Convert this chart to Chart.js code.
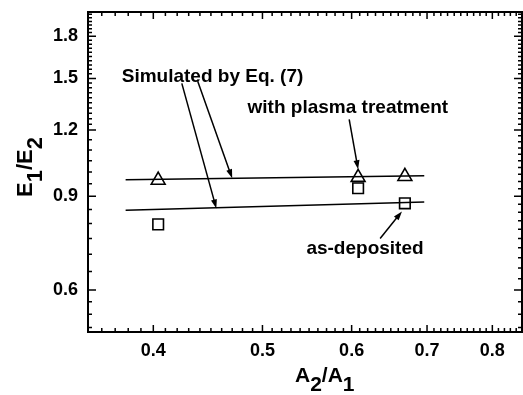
<!DOCTYPE html>
<html>
<head>
<meta charset="utf-8">
<script src="https://cdn.jsdelivr.net/npm/chart.js@4.4.0/dist/chart.umd.min.js"></script>
<style>
  html, body { margin: 0; padding: 0; background: #fff; }
</style>
</head>
<body>
<canvas id="chart" width="523" height="395"></canvas>
<script>
// measured points
const ratioX = [0.404, 0.608, 0.669];
const plasmaY = [0.965, 0.977, 0.981];
const depositedY = [0.797, 0.932, 0.873];

// simulated lines (Eq. 7)
const simX = [0.378, 0.696];
const simPlasmaY = [0.967, 0.984];
const simDepositedY = [0.847, 0.878];

// axes
const xTickLabels = [0.4, 0.5, 0.6, 0.7, 0.8];
const yTickLabels = [0.6, 0.9, 1.2, 1.5, 1.8];
const xRange = [0.35, 0.85];
const yRange = [0.5, 2.0];

// annotations (data units)
const noteText = ['Simulated by Eq. (7)', 'with plasma treatment', 'as-deposited'];
const noteX = [0.375, 0.485, 0.547];
const noteY = [1.474, 1.291, 0.700];
const arrowFromX = [0.424, 0.438, 0.597, 0.636];
const arrowFromY = [1.468, 1.481, 1.256, 0.750];
const arrowToX = [0.455, 0.470, 0.608, 0.665];
const arrowToY = [0.854, 0.973, 1.012, 0.843];

const FONT = '"Liberation Sans", Arial, sans-serif';

function steps(from, to, step) {
  const out = [];
  for (let v = from; v <= to + 1e-9; v += step) out.push(Math.round(v * 1000) / 1000);
  return out;
}
const xMinor = steps(0.35, 0.85, 0.01);
const yMinorLeft = steps(0.51, 0.6, 0.03).concat(steps(0.6, 1.2, 0.05), steps(1.2, 2.0, 0.03));
const yMinorRight = steps(0.51, 2.0, 0.03);

const pts = (xs, ys) => xs.map((x, i) => ({ x: x, y: ys[i] }));

function drawSubText(ctx, parts, x, y, shift) {
  let cx = x;
  parts.forEach(([t, sub]) => {
    ctx.fillText(t, cx, y + (sub ? shift : 0));
    cx += ctx.measureText(t).width;
  });
}

function noPadding(s) {
  s.paddingTop = 0; s.paddingBottom = 0; s.paddingLeft = 0; s.paddingRight = 0;
}

const framePlugin = {
  id: 'frame',
  afterDatasetsDraw(chart) {
    const ctx = chart.ctx;
    const ca = chart.chartArea;
    const xs = chart.scales.x;
    const ys = chart.scales.y;
    ctx.save();
    ctx.strokeStyle = '#000';
    ctx.fillStyle = '#000';

    // ticks, inward on all four sides
    ctx.lineWidth = 1.5;
    ctx.beginPath();
    xMinor.forEach(v => {
      const p = xs.getPixelForValue(v);
      if (p < ca.left || p > ca.right) return;
      const len = xTickLabels.some(m => Math.abs(m - v) < 1e-6) ? 7 : 4;
      ctx.moveTo(p, ca.bottom); ctx.lineTo(p, ca.bottom - len);
      ctx.moveTo(p, ca.top); ctx.lineTo(p, ca.top + len);
    });
    yMinorLeft.forEach(v => {
      const p = ys.getPixelForValue(v);
      if (p < ca.top || p > ca.bottom) return;
      ctx.moveTo(ca.left, p); ctx.lineTo(ca.left + 4, p);
    });
    yMinorRight.forEach(v => {
      const p = ys.getPixelForValue(v);
      if (p < ca.top || p > ca.bottom) return;
      ctx.moveTo(ca.right, p); ctx.lineTo(ca.right - 4, p);
    });
    yTickLabels.forEach(v => {
      const p = ys.getPixelForValue(v);
      ctx.moveTo(ca.left, p); ctx.lineTo(ca.left + 8, p);
      ctx.moveTo(ca.right, p); ctx.lineTo(ca.right - 8, p);
    });
    ctx.stroke();

    ctx.lineWidth = 2;
    ctx.strokeRect(ca.left, ca.top, ca.right - ca.left, ca.bottom - ca.top);

    // arrows
    ctx.lineWidth = 1.5;
    arrowFromX.forEach((fx, i) => {
      const x0 = xs.getPixelForValue(fx), y0 = ys.getPixelForValue(arrowFromY[i]);
      const x1 = xs.getPixelForValue(arrowToX[i]), y1 = ys.getPixelForValue(arrowToY[i]);
      const a = Math.atan2(y1 - y0, x1 - x0);
      const hl = 9, hw = 3;
      ctx.beginPath();
      ctx.moveTo(x0, y0);
      ctx.lineTo(x1 - hl * 0.7 * Math.cos(a), y1 - hl * 0.7 * Math.sin(a));
      ctx.stroke();
      ctx.beginPath();
      ctx.moveTo(x1, y1);
      ctx.lineTo(x1 - hl * Math.cos(a) + hw * Math.sin(a), y1 - hl * Math.sin(a) - hw * Math.cos(a));
      ctx.lineTo(x1 - hl * Math.cos(a) - hw * Math.sin(a), y1 - hl * Math.sin(a) + hw * Math.cos(a));
      ctx.closePath();
      ctx.fill();
    });

    // notes
    ctx.font = 'bold 19px ' + FONT;
    ctx.textAlign = 'left';
    ctx.textBaseline = 'alphabetic';
    noteText.forEach((t, i) => {
      ctx.fillText(t, xs.getPixelForValue(noteX[i]), ys.getPixelForValue(noteY[i]));
    });

    // axis titles with subscripts
    ctx.font = 'bold 21px ' + FONT;
    drawSubText(ctx, [['A', false], ['2', true], ['/A', false], ['1', true]], ca.left + 207, ca.bottom + 50, 9);

    ctx.font = 'bold 22px ' + FONT;
    ctx.translate(ca.left - 56, ca.bottom - 135);
    ctx.rotate(-Math.PI / 2);
    drawSubText(ctx, [['E', false], ['1', true], ['/E', false], ['2', true]], 0, 0, 10);
    ctx.restore();
  }
};

new Chart(document.getElementById('chart'), {
  type: 'scatter',
  data: {
    datasets: [
      {
        data: pts(simX, simPlasmaY),
        showLine: true,
        borderColor: '#000',
        borderWidth: 1.5,
        pointRadius: 0
      },
      {
        data: pts(simX, simDepositedY),
        showLine: true,
        borderColor: '#000',
        borderWidth: 1.5,
        pointRadius: 0
      },
      {
        data: pts(ratioX, plasmaY),
        pointStyle: 'triangle',
        pointRadius: 8,
        pointBorderWidth: 1.6,
        borderColor: '#000',
        backgroundColor: 'rgba(255,255,255,0)'
      },
      {
        data: pts(ratioX, depositedY),
        pointStyle: 'rect',
        pointRadius: 7.5,
        pointBorderWidth: 1.6,
        borderColor: '#000',
        backgroundColor: 'rgba(255,255,255,0)'
      }
    ]
  },
  options: {
    responsive: false,
    animation: false,
    layout: { autoPadding: false, padding: { left: 0, top: 12, right: 1, bottom: 0 } },
    plugins: {
      legend: { display: false },
      tooltip: { enabled: false }
    },
    scales: {
      x: {
        type: 'logarithmic',
        min: xRange[0],
        max: xRange[1],
        afterBuildTicks: s => { s.ticks = xTickLabels.map(v => ({ value: v })); },
        afterFit: s => { s.height = 63; noPadding(s); },
        grid: { display: false, drawTicks: false },
        border: { display: false },
        ticks: {
          padding: 8,
          maxRotation: 0,
          color: '#000',
          font: { family: FONT, size: 18, weight: 'bold' },
          callback: v => Number(v).toFixed(1)
        }
      },
      y: {
        type: 'logarithmic',
        min: yRange[0],
        max: yRange[1],
        afterBuildTicks: s => { s.ticks = yTickLabels.map(v => ({ value: v })); },
        afterFit: s => { s.width = 88; noPadding(s); },
        grid: { display: false, drawTicks: false },
        border: { display: false },
        ticks: {
          padding: 10,
          color: '#000',
          font: { family: FONT, size: 18, weight: 'bold' },
          callback: v => Number(v).toFixed(1)
        }
      }
    }
  },
  plugins: [framePlugin]
});
</script>
</body>
</html>
